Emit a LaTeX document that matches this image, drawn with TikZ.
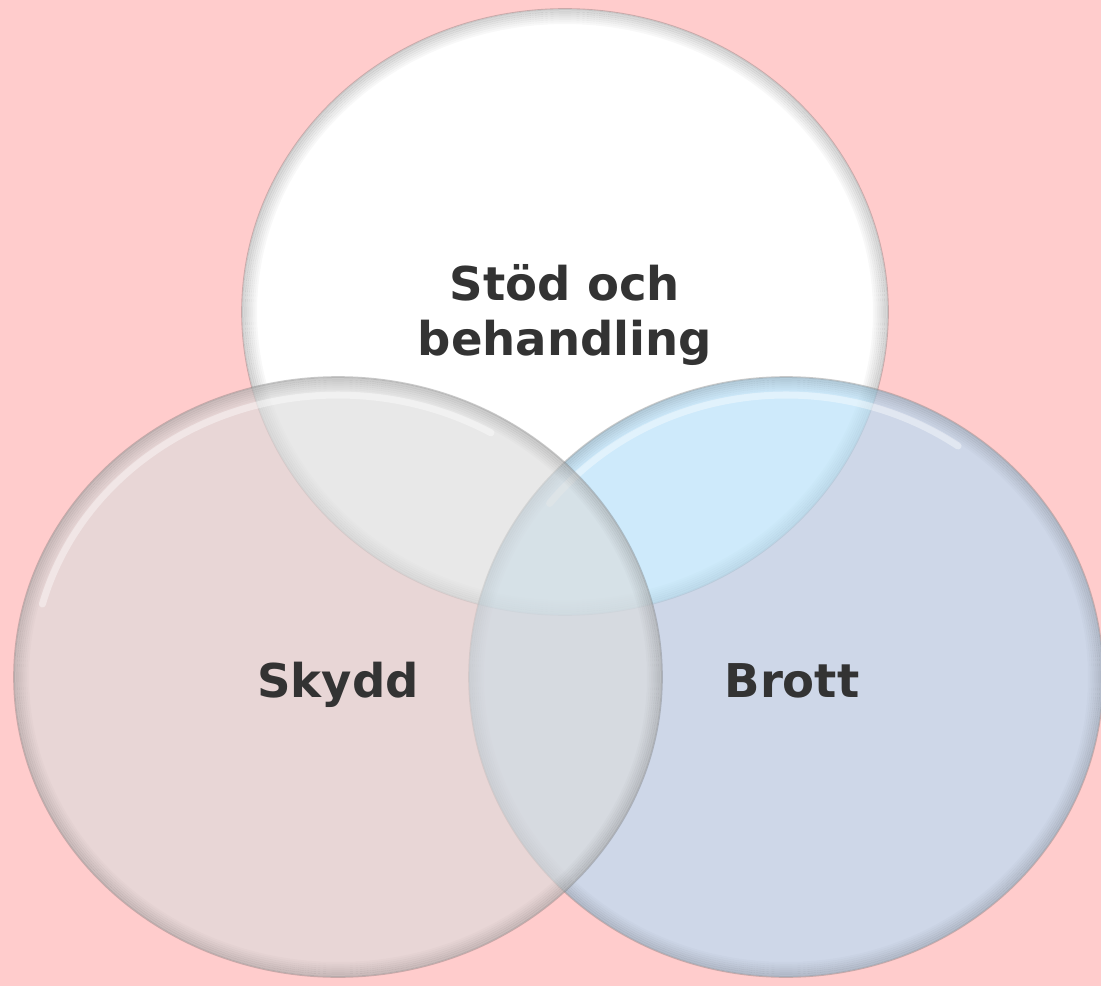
\documentclass[tikz,border=0pt]{standalone}
\usepackage{fontspec}
\setmainfont{DejaVu Sans}
\usepackage{tikz}
\usetikzlibrary{shapes.geometric}

\definecolor{sfondo}{RGB}{255,204,204}
\definecolor{celeste}{RGB}{178,223,249}
\definecolor{grigio}{RGB}{220,220,220}
\definecolor{testo}{RGB}{51,51,51}

\tikzset{
    cerchio/.style={ellipse, inner sep=0pt, draw=black!60, draw opacity=0.35,
        line width=1pt, text opacity=1},
    ombra/.style={draw=black, line width=1.2pt},
    riflesso/.style={draw=white, draw opacity=0.4, line width=4pt, line cap=round},
    etichetta/.style={font=\bfseries\fontsize{26.5}{31.3}\selectfont, text=testo, align=center}
}

\begin{document}
\begin{tikzpicture}[x=0.02cm, y=-0.02cm]
    % sfondo
    \fill[sfondo] (0, 0) rectangle (1101, 986);
    \useasboundingbox (0, 0) rectangle (1101, 986);

    % cerchio in alto
    \node[cerchio, fill=white, minimum width=12.92cm, minimum height=12.12cm] (stod) at (565, 312) {};
    \foreach \k in {1, ..., 7} {
        \draw[ombra, draw opacity={0.18-0.022*\k}] (stod.center) ellipse ({323-2*\k} and {303-2*\k});
    }

    % cerchio a destra
    \node[cerchio, fill=celeste, fill opacity=0.63, minimum width=12.68cm, minimum height=12cm] (brott) at (786, 677) {};
    \foreach \k in {1, ..., 7} {
        \draw[ombra, draw opacity={0.14-0.018*\k}] (brott.center) ellipse ({317-2*\k} and {300-2*\k});
    }
    \draw[riflesso] ([shift={(218:300 and 282)}]brott.center) arc[start angle=218, end angle=305, x radius=300, y radius=282];

    % cerchio a sinistra
    \node[cerchio, fill=grigio, fill opacity=0.63, minimum width=12.96cm, minimum height=12cm] (skydd) at (338, 677) {};
    \foreach \k in {1, ..., 7} {
        \draw[ombra, draw opacity={0.14-0.018*\k}] (skydd.center) ellipse ({324-2*\k} and {300-2*\k});
    }
    \draw[riflesso] ([shift={(195:306 and 282)}]skydd.center) arc[start angle=195, end angle=300, x radius=306, y radius=282];

    % testi
    \node[etichetta] (stodtxt) at (565, 315) {Stöd och\\behandling};
    \node[etichetta, anchor=base] (skyddtxt) at (338, 697) {Skydd};
    \node[etichetta, anchor=base] (brotttxt) at (792, 697) {Brott};
\end{tikzpicture}
\end{document}
